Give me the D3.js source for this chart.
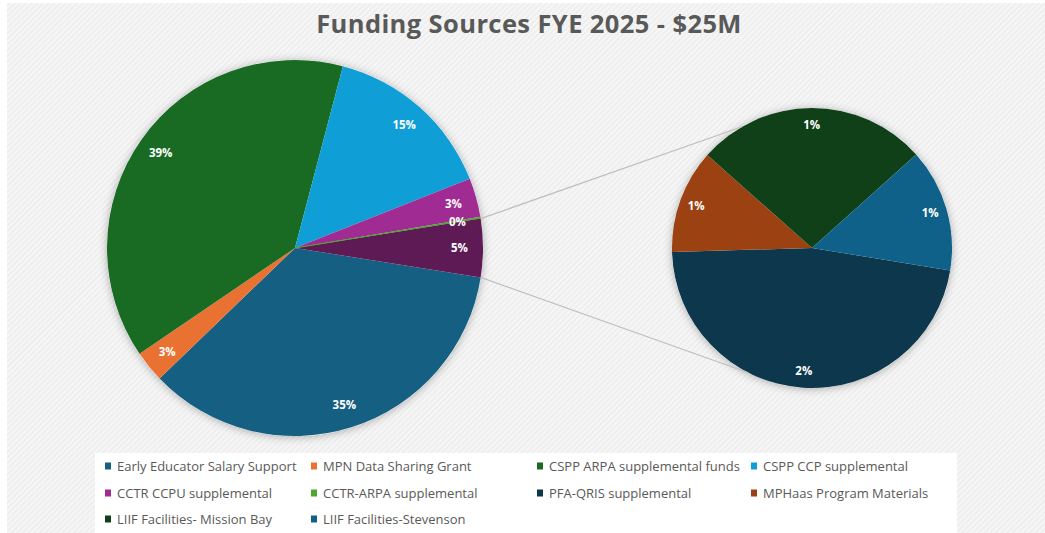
<!DOCTYPE html>
<html>
<head>
<meta charset="utf-8">
<script src="https://cdn.jsdelivr.net/npm/d3@7"></script>
<style>
  body { margin: 0; background: #ffffff; }
  svg { display: block; }
  .title { font-family: "Open Sans", sans-serif; font-weight: 700; font-size: 25.5px; letter-spacing: 0.4px; fill: #595959; }
  .legend text { font-family: "Open Sans", sans-serif; font-size: 13px; fill: #595959; }
  .lbl { font-family: "Open Sans", sans-serif; font-weight: 700; font-size: 11.5px; fill: #ffffff; }
</style>
</head>
<body>
<div id="chart"></div>
<script>
// chart data (share of the $25M total, in %)
var mainNames = ["Early Educator Salary Support", "MPN Data Sharing Grant", "CSPP ARPA supplemental funds",
    "CSPP CCP supplemental", "CCTR CCPU supplemental", "CCTR-ARPA supplemental", "Other"];
var mainValues = [35.3, 2.7, 38.6, 14.9, 3.35, 0.15, 5.0];

var subNames = ["PFA-QRIS supplemental", "MPHaas Program Materials", "LIIF Facilities- Mission Bay", "LIIF Facilities-Stevenson"];
var subValues = [2.35, 0.6, 1.34, 0.71];

var legendNames = ["Early Educator Salary Support", "MPN Data Sharing Grant", "CSPP ARPA supplemental funds",
    "CSPP CCP supplemental", "CCTR CCPU supplemental", "CCTR-ARPA supplemental", "PFA-QRIS supplemental",
    "MPHaas Program Materials", "LIIF Facilities- Mission Bay", "LIIF Facilities-Stevenson"];

var titleText = "Funding Sources FYE 2025 - $25M";

// colors
var colors = {
    "Early Educator Salary Support": "#156082",
    "MPN Data Sharing Grant": "#e97132",
    "CSPP ARPA supplemental funds": "#196b24",
    "CSPP CCP supplemental": "#0f9ed5",
    "CCTR CCPU supplemental": "#a02b93",
    "CCTR-ARPA supplemental": "#4ea72e",
    "Other": "#5e1a55",
    "PFA-QRIS supplemental": "#0c374d",
    "MPHaas Program Materials": "#9b4112",
    "LIIF Facilities- Mission Bay": "#0f4017",
    "LIIF Facilities-Stevenson": "#0f6189"
};

var width = 1045, height = 533;
var total = d3.sum(mainValues);
var pct = d3.format(".0%");

var svg = d3.select("#chart").append("svg")
    .attr("width", width)
    .attr("height", height);

var defs = svg.append("defs");

// hatched background
var pat = defs.append("pattern")
    .attr("id", "hatch")
    .attr("width", 4).attr("height", 4)
    .attr("patternUnits", "userSpaceOnUse")
    .attr("patternTransform", "rotate(45)");
pat.append("rect").attr("width", 4).attr("height", 4).attr("fill", "#f6f6f6");
pat.append("rect").attr("width", 1.5).attr("height", 4).attr("fill", "#ececec");

var shadow = defs.append("filter")
    .attr("id", "shadow")
    .attr("x", "-20%").attr("y", "-20%")
    .attr("width", "140%").attr("height", "140%");
shadow.append("feDropShadow")
    .attr("dx", 0).attr("dy", 1)
    .attr("stdDeviation", 4)
    .attr("flood-color", "#000")
    .attr("flood-opacity", 0.3);

svg.append("rect")
    .attr("x", 7).attr("y", 3)
    .attr("width", width - 7).attr("height", height - 3)
    .attr("fill", "url(#hatch)");

// legend white area
svg.append("rect")
    .attr("x", 95).attr("y", 453)
    .attr("width", 862).attr("height", 80)
    .attr("fill", "#ffffff");

// title
svg.append("text")
    .attr("class", "title")
    .attr("x", 529)
    .attr("y", 33)
    .attr("text-anchor", "middle")
    .text(titleText);

// main pie
var mainR = 188, mainCx = 295, mainCy = 248;
var otherShare = mainValues[mainValues.length - 1] / total;
var mainStart = Math.PI / 2 + Math.PI * otherShare;

var mainPie = d3.pie()
    .sort(null)
    .value(d => d)
    .startAngle(mainStart)
    .endAngle(mainStart + 2 * Math.PI);

var mainArcs = mainPie(mainValues);
var mainArc = d3.arc().innerRadius(0).outerRadius(mainR);
var mainLabelArc = d3.arc().innerRadius(mainR * 0.875).outerRadius(mainR * 0.875);

// secondary pie
var subR = 140, subCx = 812, subCy = 248;
var subStart = 99.2 * Math.PI / 180;

var subPie = d3.pie()
    .sort(null)
    .value(d => d)
    .startAngle(subStart)
    .endAngle(subStart + 2 * Math.PI);

var subArcs = subPie(subValues);
var subArc = d3.arc().innerRadius(0).outerRadius(subR);
var subLabelArc = d3.arc().innerRadius(subR * 0.88).outerRadius(subR * 0.88);

// shadows
svg.append("circle")
    .attr("cx", mainCx).attr("cy", mainCy).attr("r", mainR)
    .attr("fill", "#ffffff")
    .attr("filter", "url(#shadow)");
svg.append("circle")
    .attr("cx", subCx).attr("cy", subCy).attr("r", subR)
    .attr("fill", "#ffffff")
    .attr("filter", "url(#shadow)");

var mainG = svg.append("g")
    .attr("transform", "translate(" + mainCx + "," + mainCy + ")");

mainG.selectAll("path")
    .data(mainArcs)
    .enter().append("path")
    .attr("d", mainArc)
    .attr("fill", (d, i) => colors[mainNames[i]]);

// thin slice (0%) drawn as a line like the reference
var tiny = mainArcs[5];
mainG.append("line")
    .attr("x1", 0).attr("y1", 0)
    .attr("x2", mainR * Math.sin((tiny.startAngle + tiny.endAngle) / 2))
    .attr("y2", -mainR * Math.cos((tiny.startAngle + tiny.endAngle) / 2))
    .attr("stroke", colors[mainNames[5]])
    .attr("stroke-width", 1);

var subG = svg.append("g")
    .attr("transform", "translate(" + subCx + "," + subCy + ")");

subG.selectAll("path")
    .data(subArcs)
    .enter().append("path")
    .attr("d", subArc)
    .attr("fill", (d, i) => colors[subNames[i]]);

// connector lines
var other = mainArcs[mainArcs.length - 1];
var topA = -30 * Math.PI / 180, botA = 207 * Math.PI / 180;
var connectors = [
    [other.startAngle, topA],
    [other.endAngle, botA]
];
svg.append("g").selectAll("line")
    .data(connectors)
    .enter().append("line")
    .attr("x1", d => mainCx + mainR * Math.sin(d[0]))
    .attr("y1", d => mainCy - mainR * Math.cos(d[0]))
    .attr("x2", d => subCx + subR * Math.sin(d[1]))
    .attr("y2", d => subCy - subR * Math.cos(d[1]))
    .attr("stroke", "#bfbfbf")
    .attr("stroke-width", 1.2);

// labels
mainG.selectAll("text")
    .data(mainArcs)
    .enter().append("text")
    .attr("class", "lbl")
    .attr("transform", d => "translate(" + mainLabelArc.centroid(d) + ")")
    .attr("text-anchor", "middle")
    .attr("dy", "0.35em")
    .text(d => pct(d.value / total));

subG.selectAll("text")
    .data(subArcs)
    .enter().append("text")
    .attr("class", "lbl")
    .attr("transform", d => "translate(" + subLabelArc.centroid(d) + ")")
    .attr("text-anchor", "middle")
    .attr("dy", "0.35em")
    .text(d => pct(d.value / total));

// legend
var colX = [105, 311, 537, 751];
var rowY = [466, 493, 519];

var legend = svg.append("g").attr("class", "legend");
var item = legend.selectAll("g")
    .data(legendNames)
    .enter().append("g")
    .attr("transform", (d, i) => "translate(" + colX[i % 4] + "," + rowY[Math.floor(i / 4)] + ")");

item.append("rect")
    .attr("x", 0).attr("y", -3.5)
    .attr("width", 6).attr("height", 7)
    .attr("fill", d => colors[d]);

item.append("text")
    .attr("x", 12)
    .attr("dy", "0.35em")
    .text(d => d);
</script>
</body>
</html>
